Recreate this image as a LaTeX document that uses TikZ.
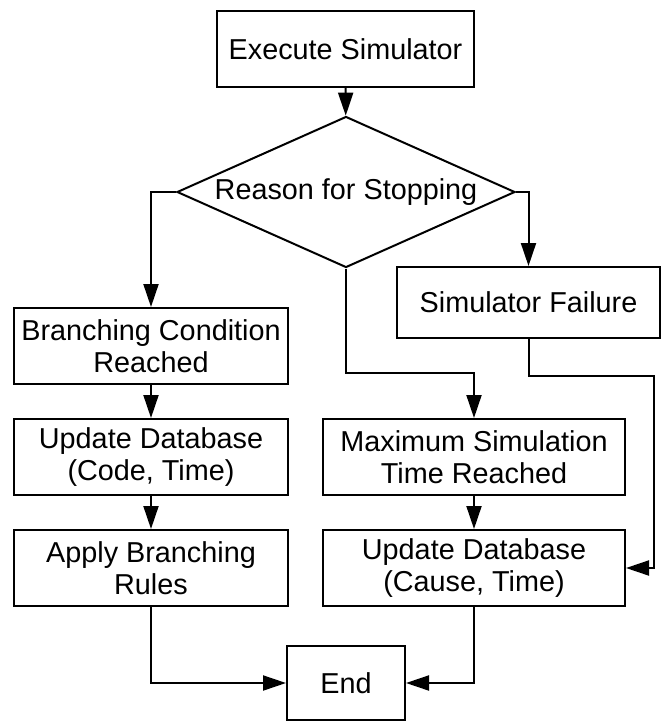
\documentclass[tikz,border=0pt]{standalone}
\usepackage{fontspec}
\setmainfont{Liberation Sans}
\usepackage{tikz}
\usetikzlibrary{arrows.meta,shapes.geometric}

\begin{document}
\begin{tikzpicture}[x=1pt, y=-1pt,
    box/.style={draw, line width=2pt, inner sep=0pt, align=center,
      minimum height=76pt, font=\fontsize{28.8pt}{32.5pt}\selectfont},
    decision/.style={draw, diamond, line width=2pt, inner sep=0pt,
      minimum width=338pt, minimum height=151pt},
    arr/.style={line width=2pt, -{Triangle[length=23pt,width=15pt]}}]
    \useasboundingbox (0,0) rectangle (662,721);

    % Start and decision
    \node[box, minimum width=257pt] (exec) at (345.5,49) {Execute Simulator};
    \node[decision] (reason) at (346,192) {};
    \node[font=\fontsize{28.8pt}{32.5pt}\selectfont, inner sep=0pt] (reasontxt) at (reason) {Reason for Stopping};

    % Left branch
    \node[box, minimum width=274pt] (branch) at (151,346) {Branching Condition\\Reached};
    \node[box, minimum width=274pt] (code) at (151,457) {Update Database\\(Code, Time)};
    \node[box, minimum width=274pt] (apply) at (151,568) {Apply Branching\\Rules};

    % Right branches
    \node[box, minimum width=263pt, minimum height=71pt] (fail) at (528.5,302.5) {Simulator Failure};
    \node[box, minimum width=302pt] (maxsim) at (474,457) {Maximum Simulation\\Time Reached};
    \node[box, minimum width=302pt] (cause) at (474,568) {Update Database\\(Cause, Time)};

    % End
    \node[box, minimum width=118pt, minimum height=74pt] (end) at (346,683) {End};

    % Bends
    \coordinate (midbend) at (346,373);
    \coordinate (failbend) at (654,376);

    % Connectors
    \draw[arr] (exec) -- (reason);
    \draw[arr] (reason.west) -| (branch.north);
    \draw[arr] (reason.east) -| (fail.north);
    \draw[arr] (reason.south) -- (midbend) -| (maxsim.north);
    \draw[arr] (branch) -- (code);
    \draw[arr] (code) -- (apply);
    \draw[arr] (maxsim) -- (cause);
    \draw[arr] (fail.south) |- (failbend) |- (cause.east);
    \draw[arr] (apply.south) |- (end.west);
    \draw[arr] (cause.south) |- (end.east);
\end{tikzpicture}
\end{document}
